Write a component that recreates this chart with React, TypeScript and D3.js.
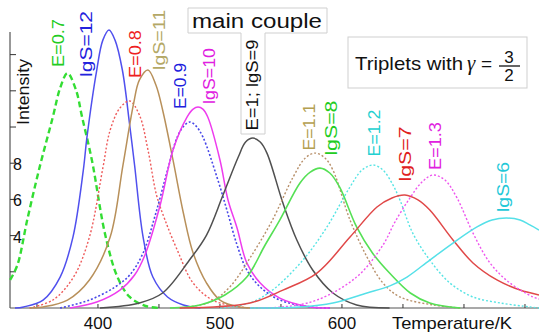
import * as d3 from "d3";

const W = 539, H = 334;
const FONT = "'Liberation Sans', Arial, sans-serif";

// [temperature K, intensity]
const E07 = [[328,1.55],[334,2.38],[342,4.86],[352,7.73],[363,10.55],[369,12.15],[375,12.98],[382,12.04],[387,10.55],[395,8.18],[406,4.03],[416,1.71],[426,0.61],[439,0.11],[451,0]];
const IGS12 = [[332,0],[339,0.06],[355,0.44],[369,1.71],[379.5,3.92],[388,7.62],[391,9.45],[399,13.15],[404,14.8],[409,15.36],[414,14.8],[420,13.15],[426,10.11],[430,7.9],[437,3.92],[445,1.71],[457,0.61],[470,0.17],[484,0]];
const E08 = [[344,0],[363,0.44],[380,1.71],[393,3.92],[404,7.73],[410,9.83],[418,11.05],[426,11.44],[434,10.66],[441,8.73],[448,6.24],[455,4.86],[465,3.2],[478,1.38],[494,0.44],[516,0.06],[533,0]];
const IGS11 = [[344,0],[355,0.06],[375,0.44],[393,1.55],[410,3.92],[420.5,7.9],[429,11.22],[434,12.6],[441,13.15],[447.5,12.32],[453,10.94],[461.5,8.18],[470,5.25],[478,3.04],[489,1.38],[500,0.44],[516,0.06],[533,0]];
const E09 = [[369,0],[393,0.44],[414,1.16],[426,1.82],[437,3.04],[447,5.14],[456.6,7.51],[465,9.45],[470.5,10.06],[475.4,10.28],[480.3,10.06],[486,9.45],[497.5,7.24],[505.7,5.41],[514,3.48],[522,2.1],[533,1.16],[549,0.44],[574,0.06],[590,0]];
const IGS10 = [[377,0],[399,0.33],[418,0.99],[430,1.82],[438.5,2.93],[451,5.69],[461.5,8.73],[473,10.55],[478,10.99],[482,11.1],[486,10.99],[490,10.55],[500,8.18],[506.6,5.97],[514,4.42],[522,2.49],[533,1.38],[549,0.55],[574,0.06],[590,0]];
const E1IGS9 = [[401.6,0],[434,0.28],[453,0.83],[475,2.65],[489,4.03],[502.5,6.24],[515,8.34],[521,9.17],[527,9.39],[533,9.17],[538.5,8.56],[551.6,5.8],[563,3.76],[576,2.1],[592.6,0.83],[612,0.17],[639,0]];
const E11 = [[467,0],[492,0.33],[508,1.16],[524.6,2.76],[543,4.86],[560,7.24],[570,8.29],[578,8.56],[586,8.29],[592.6,7.62],[606.6,4.86],[620.5,2.82],[633.6,1.38],[647.5,0.61],[674.6,0.17],[696.7,0]];
const IGS8 = [[459,0],[483.6,0.17],[504,0.72],[522,1.71],[537,3.48],[549,4.86],[565.6,6.91],[574,7.51],[582,7.73],[590,7.46],[598,6.69],[612,4.48],[625,3.04],[639,1.93],[656,0.83],[672,0.28],[697,0]];
const E12 = [[500,0],[524.6,0.28],[543,0.99],[568,2.65],[587.7,4.48],[606.6,6.69],[616.4,7.62],[625.4,7.9],[633.6,7.62],[641.8,6.8],[647.5,5.97],[658,4.14],[672,2.65],[688.5,1.38],[707.4,0.61],[729.5,0.28],[754,0.06],[761.5,0]];
const IGS7 = [[467,0],[524.6,0.28],[551.6,0.99],[579.5,1.93],[606.6,3.92],[628.7,5.58],[641,6.08],[651.6,6.24],[662.3,5.97],[672,5.41],[691,3.76],[707.4,2.49],[727,1.55],[746,0.99],[761.5,0.72]];
const E13 = [[524.6,0],[551.6,0.06],[579.5,0.44],[612,1.71],[633.6,3.48],[643.4,4.75],[655.7,6.08],[665.6,6.96],[674.6,7.35],[684.4,7.07],[694.3,6.08],[707.4,4.14],[721.3,2.49],[737.7,1.38],[756.6,0.61],[761.5,0.5]];
const IGS6 = [[524.6,0],[565.6,0.06],[592.6,0.28],[620.5,0.83],[639.3,1.22],[653.3,1.71],[672,2.65],[691,3.59],[710.7,4.48],[723,4.86],[735,4.97],[746,4.86],[754,4.59],[761.5,4.31]];

const X_TICKS = [350, 400, 450, 500, 550, 600, 650, 700, 750];
const X_LABELS = [400, 500, 600];
const Y_TICKS = [2, 4, 6, 8, 10, 12, 14];
const Y_LABELS = [4, 6, 8];

// rotated curve labels: text, centre (T, I), length in px
const LABEL_TEXT = ["E=0.7", "lgS=12", "E=0.8", "lgS=11", "E=0.9", "lgS=10", "E=1; lgS=9", "E=1.1", "lgS=8", "E=1.2", "lgS=7", "E=1.3", "lgS=6"];
const LABEL_T = [367.2, 390.2, 430.3, 450, 467.2, 491, 526.2, 573, 591, 626.2, 651.6, 676.2, 732];
const LABEL_I = [14.64, 14.59, 14.03, 14.81, 12.27, 12.82, 12.32, 10.0, 9.94, 9.67, 8.51, 8.95, 6.69];
const LABEL_LEN = [48, 66, 48, 60, 46, 56, 91, 47, 55, 47, 55, 48, 50];

const STYLE = [
  { d: E07, c: "#33dd33", w: 2.4, dash: "6,3.5", lc: "#22cc22" },
  { d: IGS12, c: "#5050ee", w: 1.5, dash: null, lc: "#2222dd" },
  { d: E08, c: "#ee5a5a", w: 1.4, dash: "2,2", lc: "#ee2020" },
  { d: IGS11, c: "#b8905a", w: 1.5, dash: null, lc: "#b4a866" },
  { d: E09, c: "#4848e8", w: 1.6, dash: "2,2", lc: "#2020dd" },
  { d: IGS10, c: "#ee3cee", w: 1.5, dash: null, lc: "#e020e0" },
  { d: E1IGS9, c: "#505050", w: 1.5, dash: null, lc: "#111111" },
  { d: E11, c: "#b8906a", w: 1.4, dash: "2,2", lc: "#b4a050" },
  { d: IGS8, c: "#55e055", w: 1.6, dash: null, lc: "#22cc22" },
  { d: E12, c: "#55e4e4", w: 1.4, dash: "2,2", lc: "#22d0d0" },
  { d: IGS7, c: "#e04848", w: 1.5, dash: null, lc: "#e02020" },
  { d: E13, c: "#ee55ee", w: 1.4, dash: "2,2", lc: "#e020e0" },
  { d: IGS6, c: "#55e0e8", w: 1.5, dash: null, lc: "#22c8d8" },
];

export default function App() {
  const x = d3.scaleLinear().domain([327.9, 761.5]).range([10, 539]);
  const y = d3.scaleLinear().domain([0, 15.25]).range([308, 32]);
  const line = d3.line<number[]>()
    .x(d => x(d[0])).y(d => y(d[1]))
    .curve(d3.curveCatmullRom.alpha(0.5));

  return (
    <svg width={W} height={H} style={{ position: "absolute", left: 0, top: 0, background: "#fff" }}
      fontFamily={FONT}>
      {/* axes */}
      <line x1={10} x2={10} y1={y(15.25)} y2={y(0)} stroke="#333" strokeWidth={1} />
      <line x1={10} x2={W} y1={y(0)} y2={y(0)} stroke="#555" strokeWidth={1.2} />
      {Y_TICKS.map(t => (
        <line key={t} x1={10} x2={16} y1={y(t)} y2={y(t)} stroke="#333" />
      ))}
      {Y_LABELS.map(t => (
        <text key={t} x={13} y={y(t) + 7} fontSize={16} fill="#111">{t}</text>
      ))}
      {X_TICKS.map(t => (
        <line key={t} x1={x(t)} x2={x(t)} y1={y(0)} y2={y(0) - 4} stroke="#333" />
      ))}
      {X_LABELS.map(t => (
        <text key={t} x={x(t)} y={329} fontSize={17} textAnchor="middle" fill="#111">{t}</text>
      ))}
      <text x={392} y={329} fontSize={17} fill="#111" textLength={120} lengthAdjust="spacingAndGlyphs">Temperature/K</text>
      <text transform="translate(29,92) rotate(-90)" fontSize={16} textAnchor="middle" fill="#111"
        textLength={66} lengthAdjust="spacingAndGlyphs">Intensity</text>

      {/* curves */}
      {STYLE.map((s, i) => (
        <path key={i} d={line(s.d) || ""} fill="none" stroke={s.c} strokeWidth={s.w}
          strokeDasharray={s.dash || undefined} />
      ))}

      {/* main couple box */}
      <path d="M188,8H327V33H265V134H241V33H188Z" fill="#fff" stroke="#cfcfcf" strokeWidth={1} />
      <text x={192} y={28} fontSize={20} fill="#111" textLength={130} lengthAdjust="spacingAndGlyphs">main couple</text>

      {/* curve labels */}
      {LABEL_TEXT.map((t, i) => (
        <text key={t} transform={`translate(${x(LABEL_T[i])},${y(LABEL_I[i])}) rotate(-90)`}
          fontSize={17} textAnchor="middle" dy="0.36em" fill={STYLE[i].lc}
          textLength={LABEL_LEN[i]} lengthAdjust="spacingAndGlyphs">{t}</text>
      ))}

      {/* legend */}
      <rect x={348} y={37} width={179} height={51} fill="#fff" stroke="#cfcfcf" />
      <text x={355} y={70} fontSize={19} fill="#111" textLength={108} lengthAdjust="spacingAndGlyphs">Triplets with</text>
      <text x={467} y={70} fontSize={21} fontStyle="italic" fontFamily="'Liberation Serif', serif" fill="#111">γ</text>
      <text x={481} y={70} fontSize={19} fill="#111">=</text>
      <text x={509} y={63} fontSize={17} textAnchor="middle" fill="#111">3</text>
      <line x1={499} x2={520} y1={66} y2={66} stroke="#111" strokeWidth={1.3} />
      <text x={509} y={81} fontSize={17} textAnchor="middle" fill="#111">2</text>
    </svg>
  );
}
